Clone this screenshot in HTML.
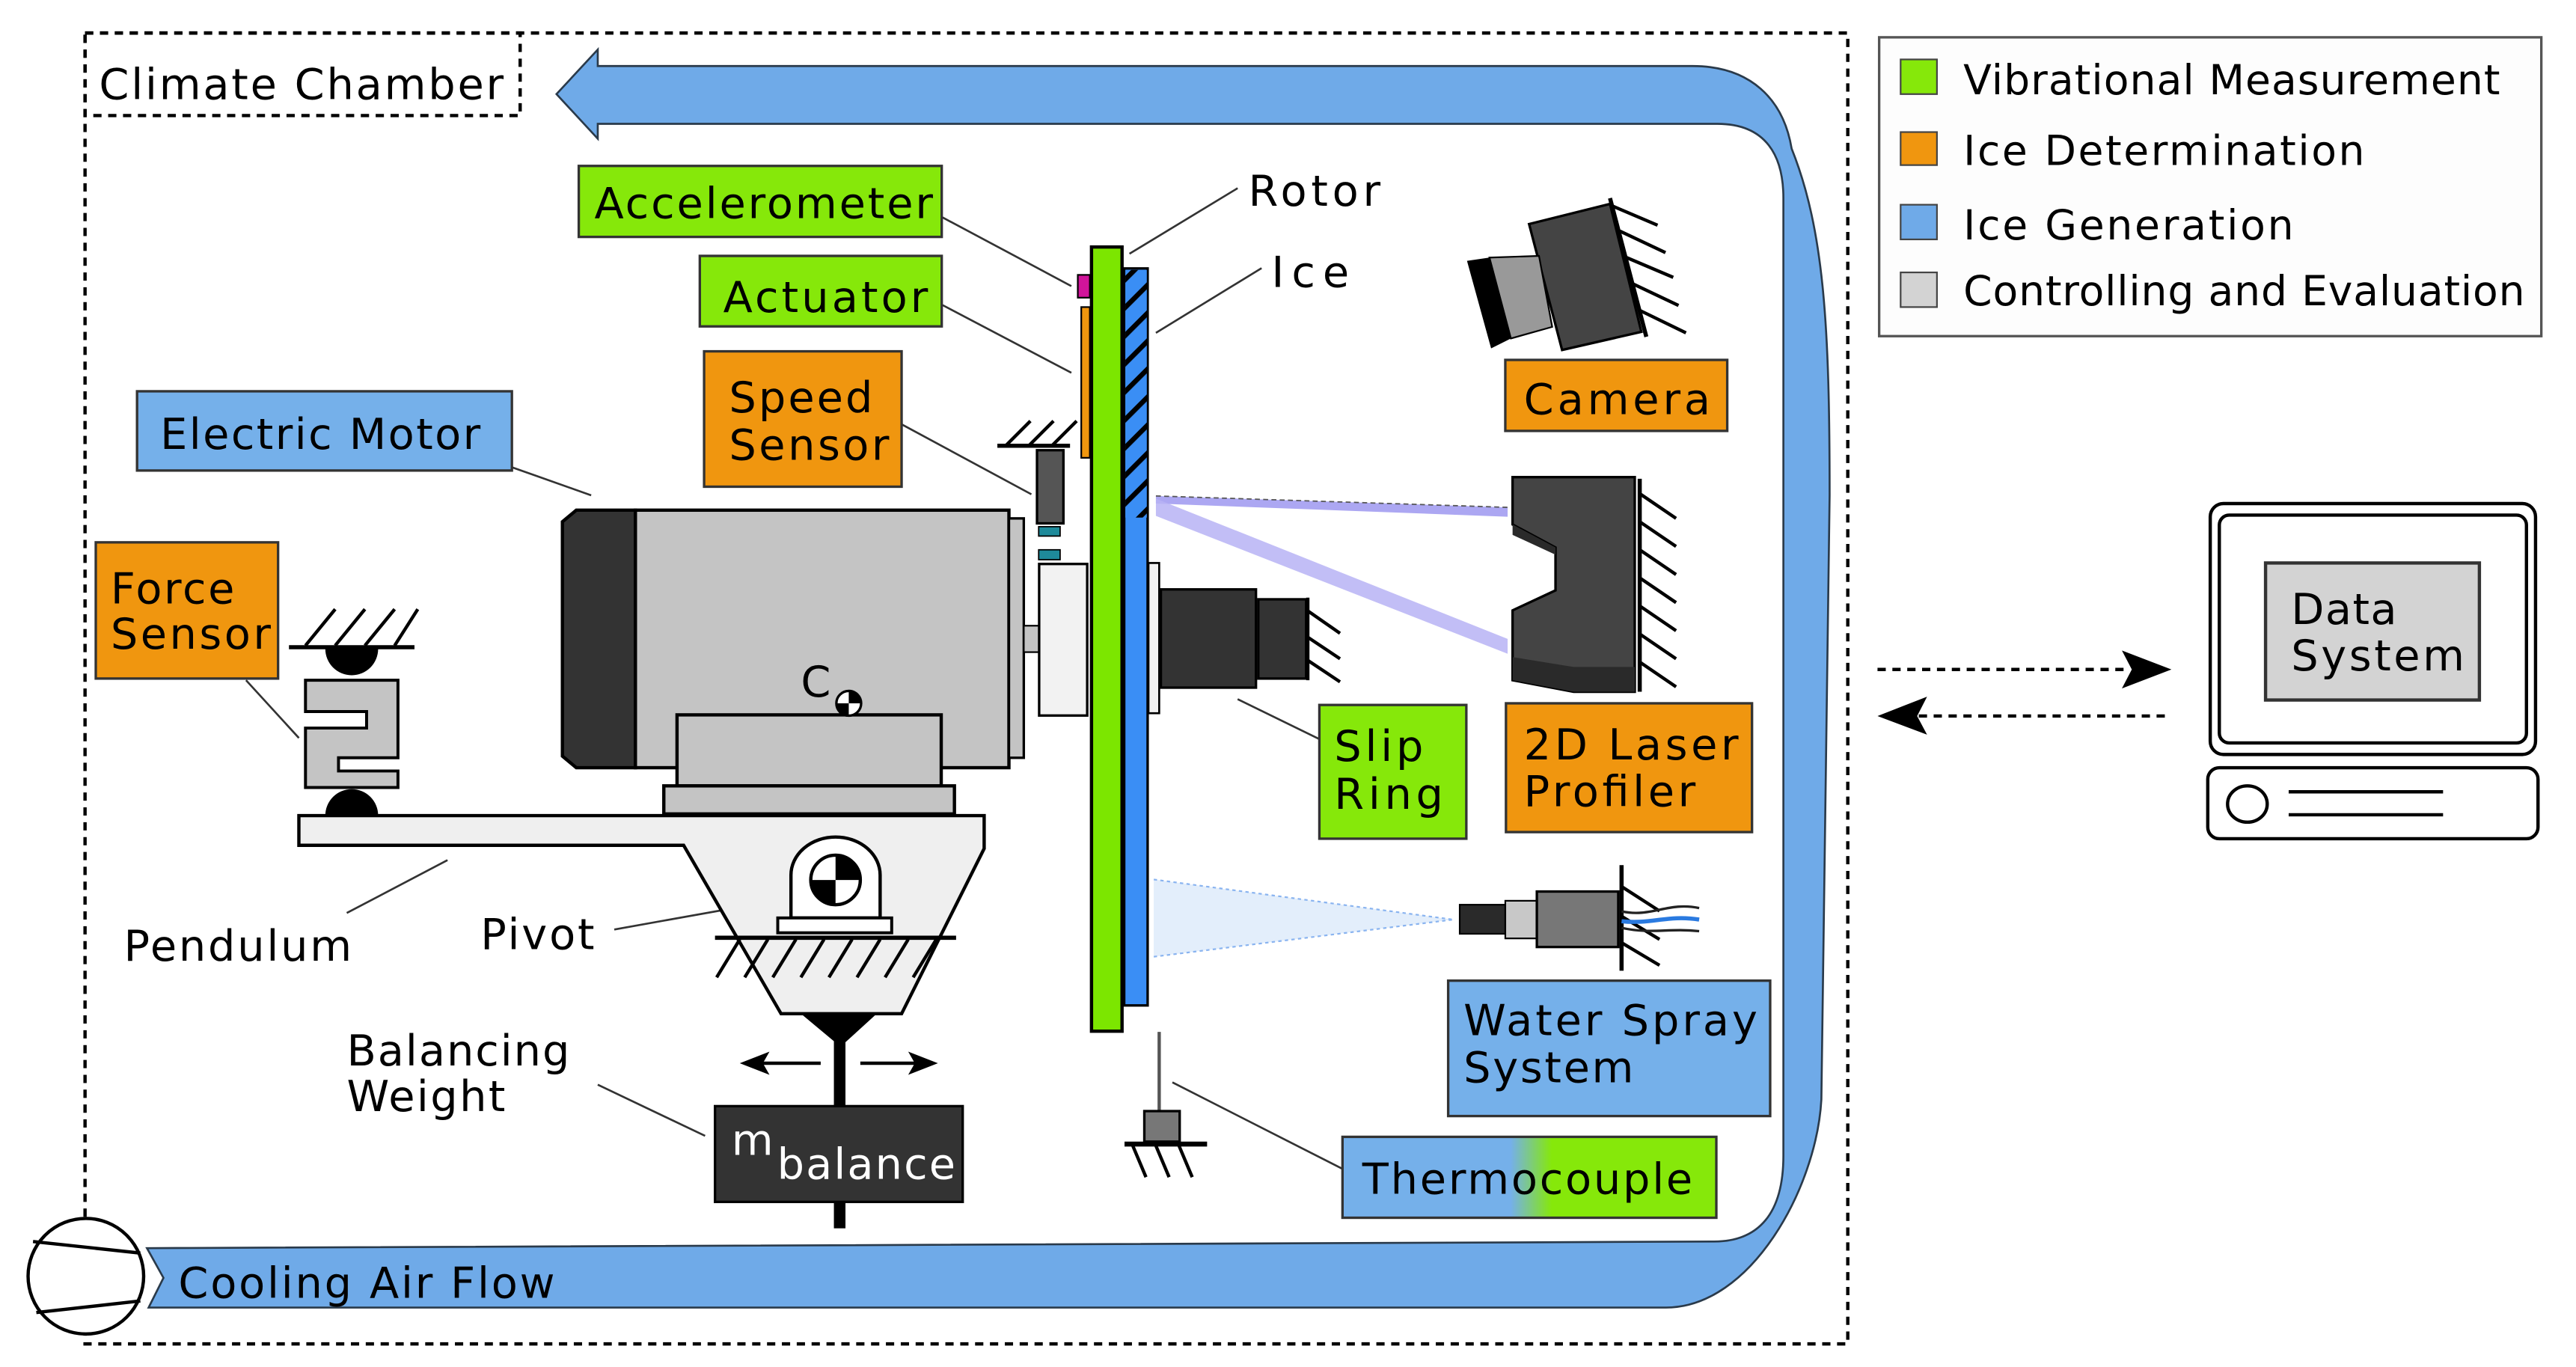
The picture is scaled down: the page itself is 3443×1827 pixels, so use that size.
<!DOCTYPE html>
<html><head><meta charset="utf-8"><style>html,body{margin:0;padding:0;background:#fff}svg{display:block}</style></head>
<body>
<svg width="3443" height="1827" viewBox="0 0 1560 828" preserveAspectRatio="none" xmlns="http://www.w3.org/2000/svg" font-family="DejaVu Sans, Liberation Sans, sans-serif" font-size="26">
<defs>
<linearGradient id="tg" x1="0" x2="1" y1="0" y2="0">
<stop offset="0.45" stop-color="#75b0ea"/><stop offset="0.56" stop-color="#86e80a"/></linearGradient>
<pattern id="hatch" width="12" height="12" patternUnits="userSpaceOnUse" patternTransform="rotate(-45)">
<rect width="12" height="12" fill="#3a8ef5"/><rect width="12" height="3" fill="#000"/></pattern>
</defs>
<rect width="1560" height="828" fill="#fff"/>
<!-- Climate chamber -->
<rect x="51.5" y="20" width="1067.5" height="794" fill="none" stroke="#000" stroke-width="2" stroke-dasharray="5,4"/>
<rect x="51.5" y="20" width="263.5" height="50" fill="none" stroke="#000" stroke-width="2" stroke-dasharray="5,4"/>
<text x="60" y="60" textLength="245">Climate Chamber</text>

<!-- Blue air loop -->
<path d="M362,40 L1025,40 C1060,40 1080,60 1085,90 C1105,140 1108,200 1108,300 L1103,666 C1100,720 1060,792 1009,792 L90,792 L99,774 L89,756 L1038,752 C1065,752 1080,735 1080,700 L1080,120 C1080,95 1070,75 1040,75 L362,75 L362,84 L337,57 L362,30 Z" fill="#6faae8" stroke="#2a3a4a" stroke-width="1.2"/>
<text x="108" y="786" textLength="228">Cooling Air Flow</text>
<!-- Fan -->
<ellipse cx="52" cy="773" rx="35" ry="35" fill="#fff" stroke="#000" stroke-width="2"/>
<line x1="20" y1="752" x2="85" y2="759" stroke="#000" stroke-width="2"/>
<line x1="22" y1="795" x2="85" y2="788" stroke="#000" stroke-width="2"/>

<!-- Legend -->
<rect x="1138" y="22.6" width="401" height="181" fill="#fdfdfd" stroke="#555" stroke-width="1.5"/>
<rect x="1151" y="36" width="22" height="21" fill="#86e80a" stroke="#444"/>
<rect x="1151" y="80" width="22" height="20" fill="#f0960f" stroke="#444"/>
<rect x="1151" y="124" width="22" height="21" fill="#6faae8" stroke="#444"/>
<rect x="1151" y="165" width="22" height="21" fill="#d3d3d3" stroke="#444"/>
<text x="1189" y="57" font-size="25" textLength="325">Vibrational Measurement</text>
<text x="1189" y="100" font-size="25" textLength="243">Ice Determination</text>
<text x="1189" y="145" font-size="25" textLength="200">Ice Generation</text>
<text x="1189" y="185" font-size="25" textLength="340">Controlling and Evaluation</text>

<!-- Computer -->
<rect x="1338.5" y="305" width="197" height="152" rx="8" fill="#fff" stroke="#000" stroke-width="2"/>
<rect x="1344" y="312" width="186" height="138" rx="6" fill="#fff" stroke="#000" stroke-width="2"/>
<rect x="1372" y="341" width="129.5" height="83" fill="#d3d3d3" stroke="#333" stroke-width="2"/>
<text x="1387.5" y="378" textLength="64">Data</text>
<text x="1387.5" y="406" textLength="105">System</text>
<rect x="1337" y="465" width="200" height="43" rx="7" fill="#fff" stroke="#000" stroke-width="2"/>
<ellipse cx="1361" cy="487" rx="12" ry="11" fill="none" stroke="#000" stroke-width="2"/>
<line x1="1386" y1="479.6" x2="1479.5" y2="479.6" stroke="#000" stroke-width="2"/>
<line x1="1386" y1="493.5" x2="1479.5" y2="493.5" stroke="#000" stroke-width="2"/>
<!-- dashed arrows -->
<line x1="1137" y1="405.5" x2="1290" y2="405.5" stroke="#000" stroke-width="2" stroke-dasharray="5,4"/>
<path d="M1315,405.5 L1285,394 L1291,405.5 L1285,417 Z" fill="#000"/>
<line x1="1162" y1="433.7" x2="1315" y2="433.7" stroke="#000" stroke-width="2" stroke-dasharray="5,4"/>
<path d="M1137,433.7 L1167,422 L1161,433.7 L1167,445 Z" fill="#000"/>

<!-- Leaders -->
<g stroke="#333" stroke-width="1.2" fill="none">
<line x1="570.8" y1="131.7" x2="648.8" y2="173.3"/>
<line x1="570.8" y1="184.8" x2="648.8" y2="225.8"/>
<line x1="546" y1="257" x2="624.6" y2="299.4"/>
<line x1="310" y1="283" x2="358" y2="300"/>
<line x1="684" y1="153.7" x2="749.5" y2="114"/>
<line x1="700" y1="201.6" x2="764" y2="162.4"/>
<line x1="149" y1="412" x2="181" y2="447"/>
<line x1="210" y1="553" x2="271" y2="521"/>
<line x1="372" y1="563" x2="475.5" y2="544.5"/>
<line x1="362" y1="657" x2="427" y2="688"/>
<line x1="749.5" y1="423.5" x2="799" y2="447.7"/>
<line x1="710" y1="655.6" x2="813" y2="708"/>
</g>

<!-- Motor -->
<path d="M349,309 L384.8,309 L384.8,465 L349,465 L340.6,458 L340.6,316 Z" fill="#333" stroke="#000" stroke-width="2"/>
<rect x="384.8" y="309" width="226.2" height="156" fill="#c4c4c4" stroke="#000" stroke-width="2"/>
<rect x="611" y="314" width="9" height="145" fill="#c4c4c4" stroke="#000" stroke-width="1.5"/>
<rect x="620" y="379" width="9.3" height="16" fill="#c4c4c4" stroke="#000" stroke-width="1"/>
<rect x="629.3" y="341.6" width="29.1" height="91.8" fill="#f2f2f2" stroke="#000" stroke-width="1.5"/>
<rect x="410" y="433" width="160" height="43" fill="#c4c4c4" stroke="#000" stroke-width="2"/>
<rect x="402" y="476" width="176" height="17" fill="#c4c4c4" stroke="#000" stroke-width="2"/>
<text x="485" y="422">C</text>
<circle cx="514" cy="426" r="7.5" fill="#fff" stroke="#000" stroke-width="1.5"/>
<path d="M514,426 L514,418.5 A7.5,7.5 0 0 1 521.5,426 Z M514,426 L514,433.5 A7.5,7.5 0 0 1 506.5,426 Z" fill="#000"/>

<!-- Speed sensor -->
<line x1="604" y1="270" x2="648" y2="270" stroke="#000" stroke-width="2.5"/>
<g stroke="#000" stroke-width="2"><line x1="609" y1="270" x2="624" y2="255"/><line x1="623" y1="270" x2="638" y2="255"/><line x1="637" y1="270" x2="652" y2="255"/></g>
<rect x="628" y="272.7" width="16" height="44.3" fill="#555" stroke="#000" stroke-width="1.5"/>
<rect x="629" y="319" width="13" height="5.7" fill="#1e8a9a" stroke="#000" stroke-width="0.8"/>
<rect x="629" y="333" width="13" height="6" fill="#1e8a9a" stroke="#000" stroke-width="0.8"/>

<!-- Rotor & ice -->
<rect x="652.7" y="166.5" width="7.3" height="13.8" fill="#d0149a" stroke="#000" stroke-width="1"/>
<rect x="654.8" y="186" width="5.2" height="91.3" fill="#f0960f" stroke="#000" stroke-width="1"/>
<rect x="680.8" y="162.6" width="14.2" height="446.4" fill="#3a8ef5" stroke="#000" stroke-width="1.5"/>
<rect x="681.5" y="163.5" width="13" height="150" fill="url(#hatch)"/>
<rect x="661" y="149.6" width="18.5" height="475" fill="#7ce600" stroke="#000" stroke-width="2"/>

<!-- Slip ring -->
<rect x="695.5" y="341" width="6.5" height="91" fill="#f2f2f2" stroke="#000" stroke-width="1.2"/>
<rect x="703" y="357" width="57.6" height="59.5" fill="#333" stroke="#000" stroke-width="1.5"/>
<rect x="762" y="363" width="29" height="48" fill="#333" stroke="#000" stroke-width="1.5"/>
<line x1="792" y1="362" x2="792" y2="412" stroke="#000" stroke-width="2"/>
<g stroke="#000" stroke-width="2"><line x1="792" y1="370" x2="811.5" y2="383.6"/><line x1="792" y1="386" x2="811.5" y2="399"/><line x1="792" y1="400" x2="811.5" y2="413"/></g>

<!-- Laser beams -->
<polygon points="700,300.4 913,307.3 913,313 700,305" fill="#9e98f0" opacity="0.85"/>
<polygon points="700,302 913,387 913,396 700,312.5" fill="#b7b3f5" opacity="0.85"/>
<line x1="700" y1="300.4" x2="913" y2="307.3" stroke="#555" stroke-width="0.8" stroke-dasharray="3,2"/>

<!-- Camera -->
<polygon points="926,135.7 975,123.5 994,201 946,212" fill="#444" stroke="#000" stroke-width="1.5"/>
<polygon points="902,156 932,155 940,198 915,205" fill="#999" stroke="#000" stroke-width="1"/>
<polygon points="888.4,158 902,156 915,205 903,211" fill="#000"/>
<line x1="975" y1="120" x2="997" y2="204" stroke="#000" stroke-width="2.5"/>
<g stroke="#000" stroke-width="2"><line x1="977" y1="125" x2="1003.8" y2="136.4"/><line x1="981" y1="140" x2="1008.6" y2="153"/><line x1="985" y1="156" x2="1013.3" y2="168"/><line x1="989" y1="172" x2="1016.5" y2="185"/><line x1="993" y1="188" x2="1021" y2="201.6"/></g>

<!-- Laser profiler -->
<path d="M916,289 L990,289 L990,419 L953,419 L916,412 L916,369.7 L942,357.6 L942,331.6 L916,317.7 Z" fill="#444" stroke="#000" stroke-width="1.5"/>
<path d="M916,317.7 L942,331.6 L942,336 L916,324 Z M916,398 L953,404 L990,404 L990,419 L953,419 L916,412 Z" fill="#2a2a2a"/>
<line x1="993" y1="290" x2="993" y2="419" stroke="#000" stroke-width="2.5"/>
<g stroke="#000" stroke-width="2"><line x1="993" y1="299" x2="1015" y2="314"/><line x1="993" y1="316" x2="1015" y2="331"/><line x1="993" y1="333" x2="1015" y2="348"/><line x1="993" y1="350" x2="1015" y2="365"/><line x1="993" y1="367" x2="1015" y2="382"/><line x1="993" y1="384" x2="1015" y2="399"/><line x1="993" y1="401" x2="1015" y2="416"/></g>

<!-- Spray -->
<polygon points="698.7,532.7 880,557 698.7,579.5" fill="#e3eefb"/>
<line x1="698.7" y1="532.7" x2="880" y2="557" stroke="#8ab4f0" stroke-width="1" stroke-dasharray="2,2"/>
<line x1="698.7" y1="579.5" x2="880" y2="557" stroke="#8ab4f0" stroke-width="1" stroke-dasharray="2,2"/>
<rect x="884" y="548" width="27.6" height="17.6" fill="#2a2a2a" stroke="#000"/>
<rect x="911.6" y="545.6" width="19.1" height="22.8" fill="#c8c8c8" stroke="#000"/>
<rect x="930.7" y="540" width="49.3" height="33.6" fill="#777" stroke="#000" stroke-width="1.5"/>
<line x1="982" y1="524" x2="982" y2="588" stroke="#000" stroke-width="2.5"/>
<g stroke="#000" stroke-width="2"><line x1="982" y1="537" x2="1005" y2="551.8"/><line x1="982" y1="555" x2="1005" y2="569"/><line x1="982" y1="571" x2="1005" y2="584.7"/></g>
<g fill="none" stroke-width="1.5"><path d="M982,552 C1000,556 1010,546 1029,550" stroke="#222"/><path d="M982,558 C1000,560 1010,554 1029,557" stroke="#2a7ae0" stroke-width="2.5"/><path d="M982,562 C1000,566 1010,562 1029,564" stroke="#222"/></g>

<!-- Thermocouple -->
<path d="M702,625 L702,673" stroke="#555" stroke-width="2"/>
<rect x="693" y="673" width="21.4" height="18.5" fill="#777" stroke="#000" stroke-width="1.5"/>
<line x1="681" y1="693" x2="731" y2="693" stroke="#000" stroke-width="3"/>
<g stroke="#000" stroke-width="2"><line x1="686" y1="694" x2="694" y2="713"/><line x1="700" y1="694" x2="708" y2="713"/><line x1="714" y1="694" x2="722" y2="713"/></g>

<!-- Pendulum -->
<path d="M181,494 L596,494 L596,514 L546,614 L473,614 L414,512 L181,512 Z" fill="#efefef" stroke="#000" stroke-width="2"/>
<!-- pivot -->
<path d="M479,556 L479,530 A27,23 0 0 1 533,530 L533,556 Z" fill="#fff" stroke="#000" stroke-width="2"/>
<circle cx="506" cy="533" r="15" fill="#fff" stroke="#000" stroke-width="2"/>
<path d="M506,533 L506,518 A15,15 0 0 1 521,533 Z M506,533 L506,548 A15,15 0 0 1 491,533 Z" fill="#000"/>
<rect x="471" y="556" width="69" height="9" fill="#fff" stroke="#000" stroke-width="1.8"/>
<line x1="433" y1="568" x2="579" y2="568" stroke="#000" stroke-width="2.5"/>
<g stroke="#000" stroke-width="2"><line x1="448" y1="569" x2="434" y2="592"/><line x1="465" y1="569" x2="451" y2="592"/><line x1="482" y1="569" x2="468" y2="592"/><line x1="499" y1="569" x2="485" y2="592"/><line x1="516" y1="569" x2="502" y2="592"/><line x1="533" y1="569" x2="519" y2="592"/><line x1="550" y1="569" x2="536" y2="592"/><line x1="567" y1="569" x2="553" y2="592"/></g>
<polygon points="485,614 531,614 509,634" fill="#000"/>
<rect x="505" y="630" width="7" height="114" fill="#000"/>
<rect x="433" y="670" width="150" height="58" fill="#333" stroke="#000" stroke-width="1.5"/>
<text x="443" y="699.5" fill="#fff">m</text>
<text x="470.6" y="714" fill="#fff" textLength="108">balance</text>
<line x1="460" y1="644" x2="497" y2="644" stroke="#000" stroke-width="2"/>
<path d="M448,644 L466,637 L462,644 L466,651 Z" fill="#000"/>
<line x1="521" y1="644" x2="558" y2="644" stroke="#000" stroke-width="2"/>
<path d="M568,644 L550,637 L554,644 L550,651 Z" fill="#000"/>

<!-- Force sensor -->
<line x1="175" y1="392" x2="251" y2="392" stroke="#000" stroke-width="2.5"/>
<g stroke="#000" stroke-width="2"><line x1="185" y1="391" x2="203" y2="369"/><line x1="203" y1="391" x2="221" y2="369"/><line x1="221" y1="391" x2="239" y2="369"/><line x1="239" y1="391" x2="253" y2="369"/></g>
<path d="M197,393 A16,16 0 0 0 229,393 Z" fill="#000"/>
<path d="M197,494 A16,16 0 0 1 229,494 Z" fill="#000"/>
<path d="M185,412 L241,412 L241,459 L205,459 L205,467 L241,467 L241,477 L185,477 L185,441 L222,441 L222,431 L185,431 Z" fill="#c4c4c4" stroke="#000" stroke-width="1.8"/>

<!-- Label boxes -->
<g stroke="#333" stroke-width="1.5">
<rect x="350.5" y="100.5" width="219.8" height="43" fill="#86e80a"/>
<rect x="423.8" y="155" width="146.5" height="42.7" fill="#86e80a"/>
<rect x="426.4" y="212.8" width="119.6" height="82" fill="#f0960f"/>
<rect x="83" y="237" width="227" height="48" fill="#75b0ea"/>
<rect x="58" y="328.5" width="110.4" height="82.5" fill="#f0960f"/>
<rect x="911.6" y="218" width="134.4" height="43" fill="#f0960f"/>
<rect x="912" y="426" width="149" height="78" fill="#f0960f"/>
<rect x="799" y="427" width="89" height="81" fill="#86e80a"/>
<rect x="877" y="594" width="195" height="82" fill="#75b0ea"/>
<rect x="813" y="688.6" width="226.4" height="49" fill="url(#tg)"/>
</g>
<text x="360" y="132.2" textLength="205">Accelerometer</text>
<text x="438" y="189" textLength="124">Actuator</text>
<text x="441.5" y="249.8" textLength="87">Speed</text>
<text x="441.5" y="278.4" textLength="97">Sensor</text>
<text x="97" y="272" textLength="194">Electric Motor</text>
<text x="67" y="365.6" textLength="75">Force</text>
<text x="67" y="393" textLength="97">Sensor</text>
<text x="922.8" y="250.8" textLength="113">Camera</text>
<text x="922.8" y="460" textLength="130">2D Laser</text>
<text x="922.8" y="488.4" textLength="104">Profiler</text>
<text x="808" y="461" textLength="54">Slip</text>
<text x="808" y="490" textLength="66">Ring</text>
<text x="886.3" y="627" textLength="178">Water Spray</text>
<text x="886.3" y="655.6" textLength="103">System</text>
<text x="825" y="723" textLength="200">Thermocouple</text>
<text x="756" y="124.6" textLength="80">Rotor</text>
<text x="770" y="173.8" textLength="47">Ice</text>
<text x="75" y="582" textLength="138">Pendulum</text>
<text x="291" y="575" textLength="69">Pivot</text>
<text x="210" y="645.3" textLength="135">Balancing</text>
<text x="210" y="673" textLength="96">Weight</text>
</svg>
</body></html>
